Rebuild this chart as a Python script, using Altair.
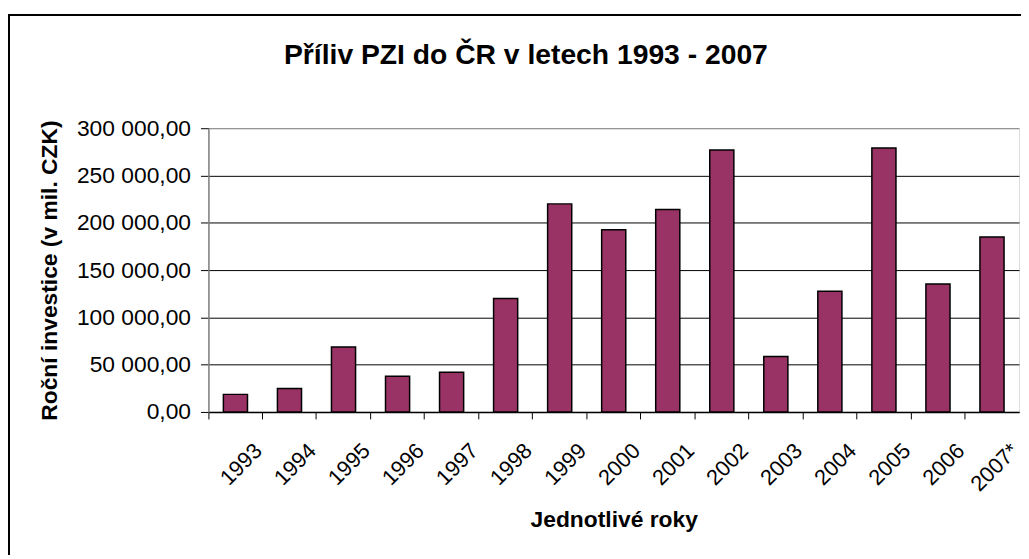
import altair as alt
import pandas as pd

# ---- data ----
years = ["1993", "1994", "1995", "1996", "1997", "1998", "1999", "2000",
         "2001", "2002", "2003", "2004", "2005", "2006", "2007*"]
values = [18600, 24900, 68600, 37800, 42000, 120000, 220000, 192700,
          214000, 276900, 58700, 127700, 279000, 135300, 185000]
y_ticks = [0, 50000, 100000, 150000, 200000, 250000, 300000]

chart_title = "Příliv PZI do ČR v letech 1993 - 2007"
y_title = "Roční investice (v mil. CZK)"
x_title = "Jednotlivé roky"

df = pd.DataFrame({"rok": years, "hodnota": values})

FONT = "Liberation Sans"
W, H = 817, 286
PLOT_X0, PLOT_Y0 = 210, 127  # page position of plot origin

bars = alt.Chart(df).mark_bar(
    color="#993366", stroke="black", strokeWidth=1.5,
    width=alt.RelativeBandSize(0.446)
).encode(
    x=alt.X("rok:N", sort=years,
            scale=alt.Scale(paddingInner=0, paddingOuter=0),
            axis=alt.Axis(
                title=x_title, titleFont=FONT, titleFontSize=23, titleFontWeight="bold",
                titleColor="black", titleX=W / 2, titleY=115, titleBaseline="alphabetic",
                titleAlign="center",
                labelAngle=-45, labelAlign="right", labelBaseline="top",
                labelFont=FONT, labelFontSize=22, labelColor="black",
                labelOffset=16, labelPadding=21, labelOverlap=False, labelFlush=False,
                bandPosition=0, tickSize=7, tickColor="black", tickWidth=1,
                domainColor="black", domainWidth=1.5, grid=False)),
    y=alt.Y("hodnota:Q",
            scale=alt.Scale(domain=[0, 300000], nice=False),
            axis=alt.Axis(
                values=y_ticks,
                labelExpr="replace(replace(format(datum.value, ',.2f'), ',', ' '), '.', ',')",
                labelFont=FONT, labelFontSize=23, labelColor="black", labelPadding=10,
                tickSize=8, tickColor="black", tickWidth=1,
                domainColor="#808080", domainWidth=1.5,
                grid=True,
                gridColor=alt.condition("datum.value >= 300000", alt.value("#808080"), alt.value("black")),
                gridWidth=1,
                title=y_title, titleFont=FONT, titleFontSize=23, titleFontWeight="bold",
                titleColor="black", titleAngle=270, titleX=-153, titleY=H / 2,
                titleBaseline="alphabetic", titleAlign="center")),
)

frame = alt.Chart(pd.DataFrame({"k": [0]})).mark_rect(
    fillOpacity=0, stroke="black", strokeWidth=2
).encode(
    x=alt.value(9 - PLOT_X0), x2=alt.value(950),
    y=alt.value(13 - PLOT_Y0), y2=alt.value(520),
)

title = alt.Chart(pd.DataFrame({"t": [chart_title]})).mark_text(
    font=FONT, fontSize=28.5, fontWeight="bold", align="center",
    baseline="alphabetic", color="black"
).encode(
    text="t:N",
    x=alt.value(530 - PLOT_X0),
    y=alt.value(62 - PLOT_Y0),
)

chart = alt.layer(frame, bars, title).properties(
    width=W, height=H,
    autosize=alt.AutoSizeParams(type="none"),
    padding={"left": PLOT_X0 - 8, "top": PLOT_Y0 - 8, "right": 2, "bottom": 142},
).configure_view(
    fill="#C0C0C0", stroke="#808080", strokeWidth=2
).configure(background="white")

chart.save("out.html", embed_options={"renderer": "svg", "actions": False})
